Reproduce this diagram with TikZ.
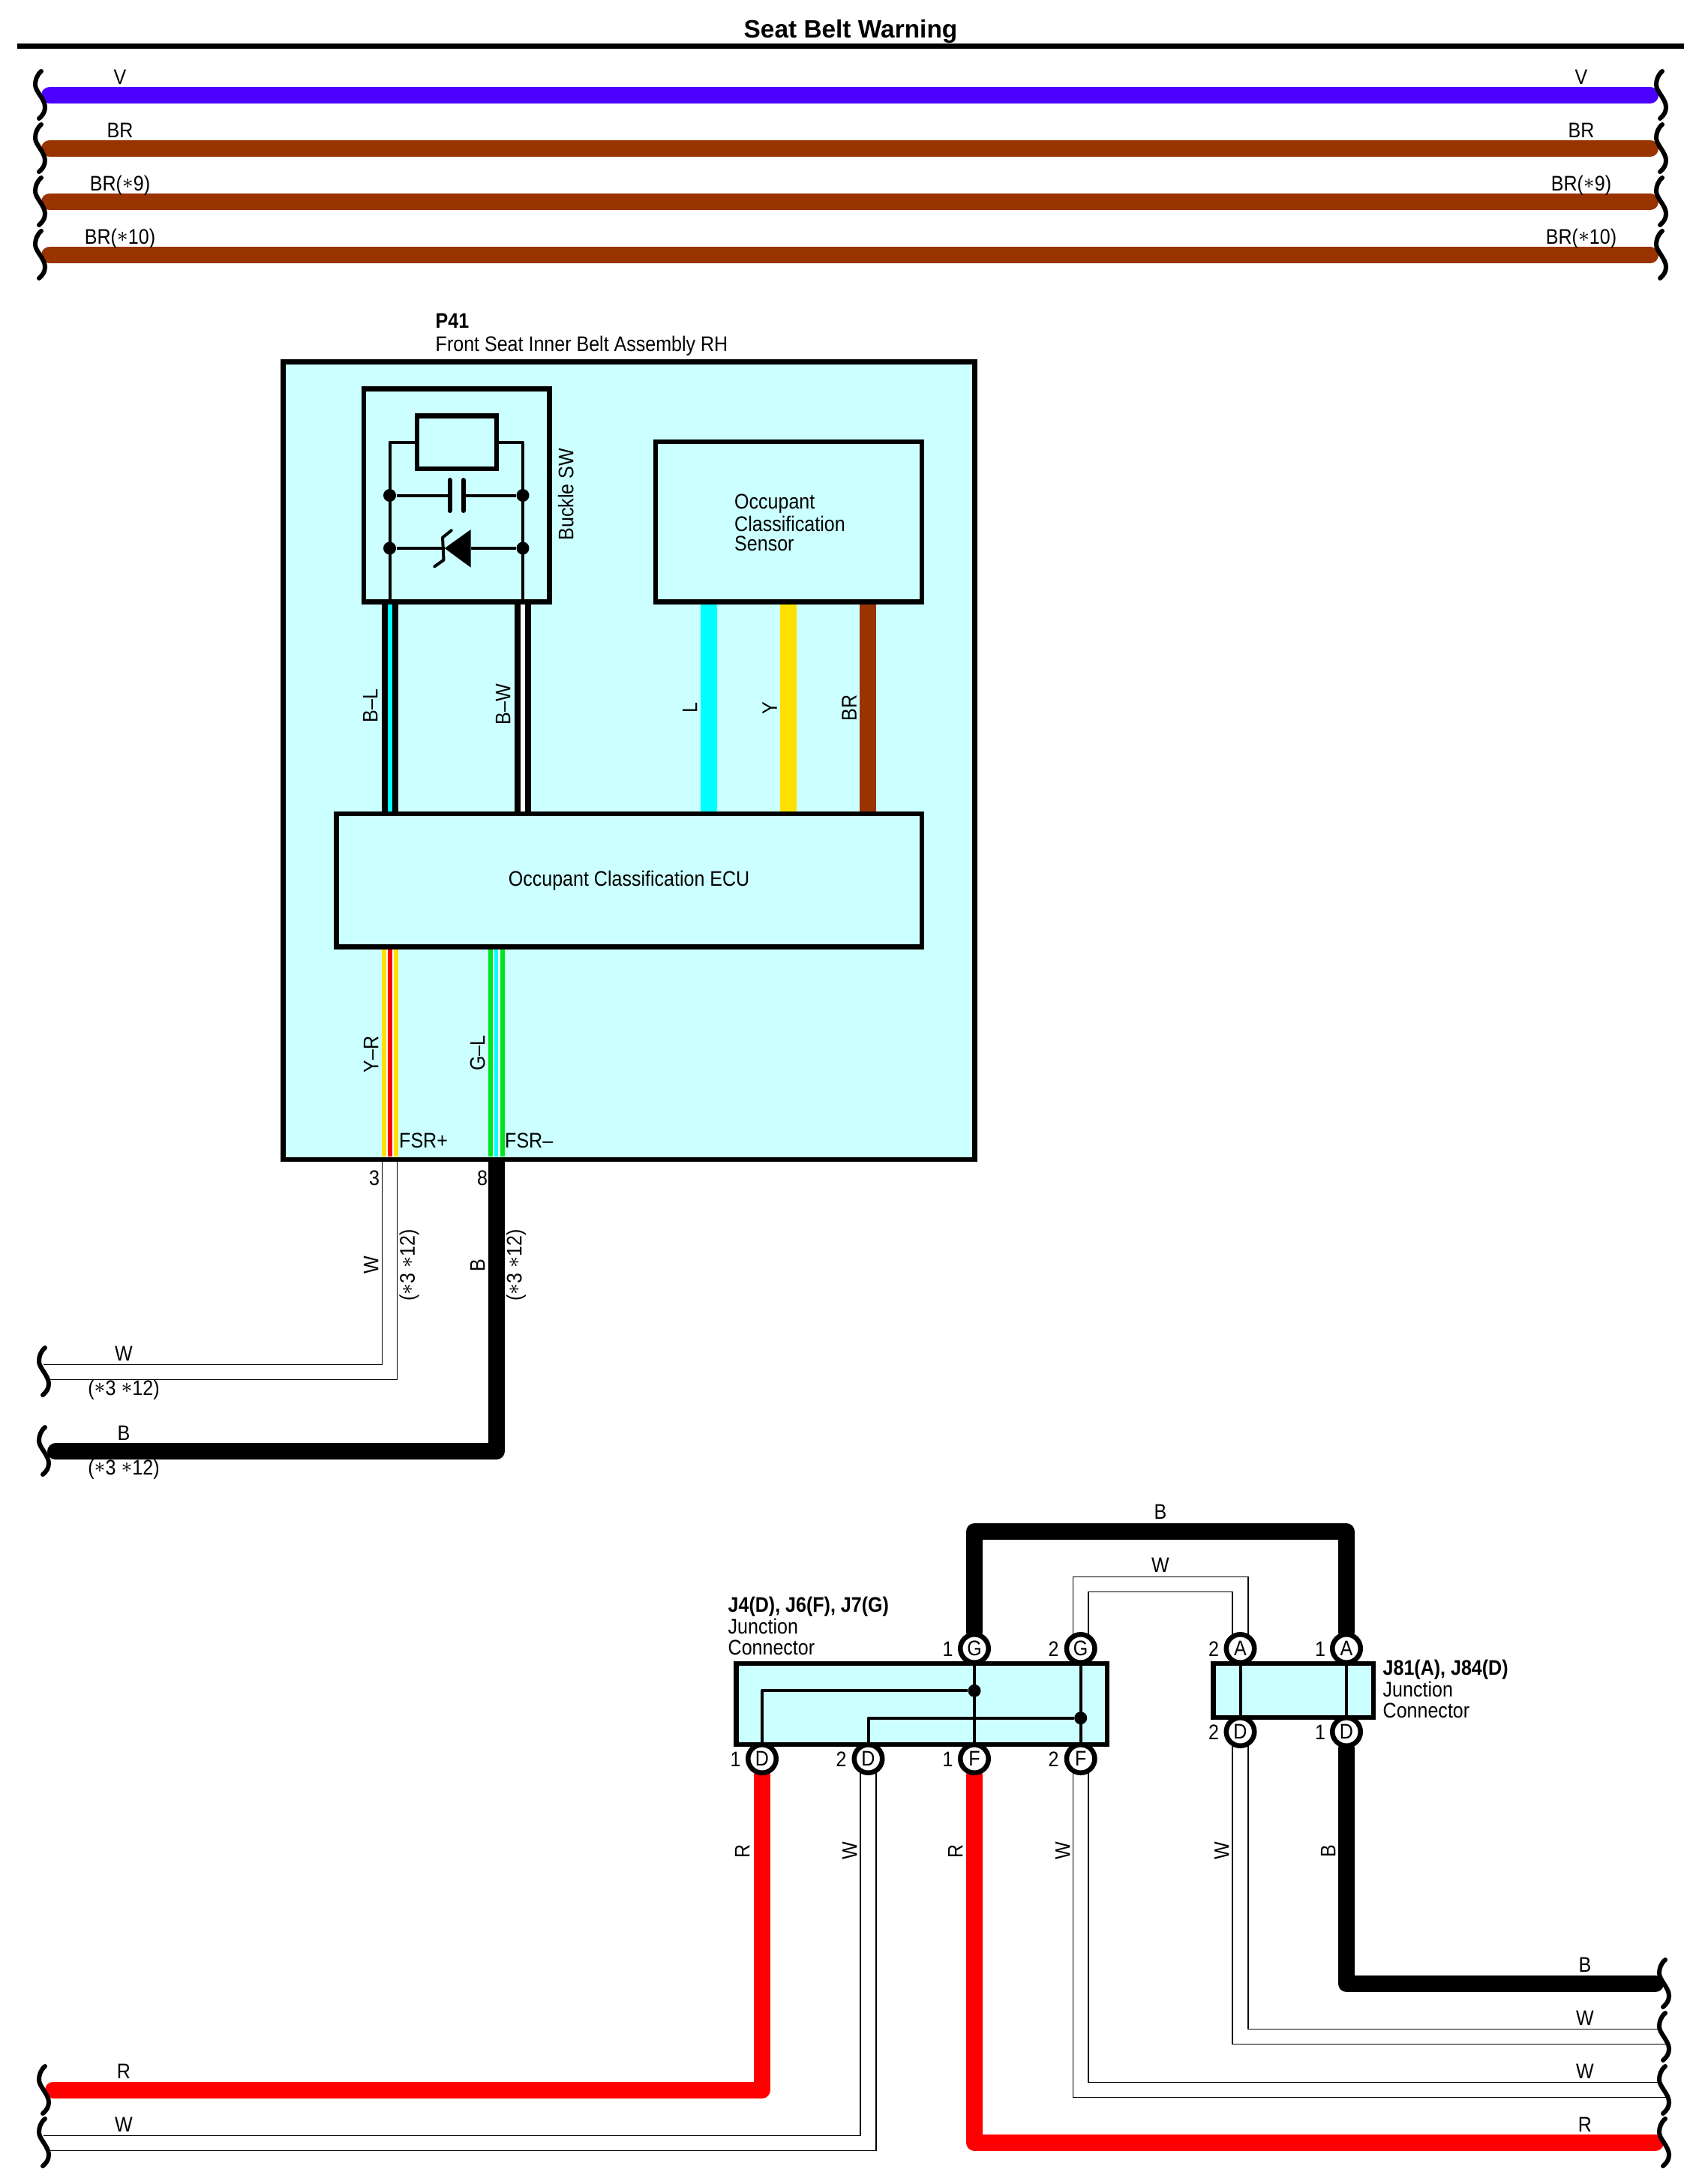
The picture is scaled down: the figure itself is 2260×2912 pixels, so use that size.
\documentclass[tikz,border=0pt]{standalone}
\usepackage{fontspec}
\setmainfont{Liberation Sans}[FakeStretch=0.89]
\newfontfamily\titlefont{Liberation Sans}
\usetikzlibrary{positioning}
\pgfdeclarelayer{wires}
\pgfsetlayers{wires,main}

\definecolor{wireV}{HTML}{4B00FF}
\definecolor{wireBR}{HTML}{993300}
\definecolor{wireY}{HTML}{FFE000}
\definecolor{wireL}{HTML}{00FFFF}
\definecolor{wireG}{HTML}{00E61E}
\definecolor{wireR}{HTML}{FF0000}
\definecolor{unitfill}{HTML}{CCFFFF}

\newcommand{\wstar}{\raisebox{0.8pt}{$\ast$}}

\tikzset{
  lbl/.style={inner sep=0pt, text height=0.205cm, text depth=0pt, font=\fontsize{8}{9}\selectfont},
  vlbl/.style={lbl, rotate=90},
  note/.style={inner sep=0pt, align=left, anchor=west, font=\fontsize{8}{8.1}\selectfont},
  unit/.style={draw, line width=0.065cm, fill=unitfill, inner sep=0pt, font=\fontsize{8}{9}\selectfont},
  pin/.style={circle, draw, line width=0.065cm, fill=white, minimum size=0.375cm, inner sep=0pt, font=\fontsize{8}{9}\selectfont},
  jdot/.style={circle, fill=black, minimum size=0.17cm, inner sep=0pt},
  cct/.style={line width=0.04cm, line join=round},
  brk/.style={line width=0.06cm, line cap=round},
  busw/.style={line width=0.22cm, line cap=round, line join=round},
  thinw/.style={line width=0.015cm},
  stripo/.style={line width=0.22cm},
  stripm/.style={line width=0.1cm},
  stripi/.style={line width=0.066cm}
}

\begin{document}
\begin{tikzpicture}[x=0.01cm,y=-0.01cm]
\useasboundingbox (0,0) rectangle (2260,2912);

% Title and rule
\node[inner sep=0pt, font=\titlefont\bfseries\fontsize{9.5}{11}\selectfont] (title) at (1134,42) {Seat Belt Warning};
\coordinate (rulel) at (23,61.5);
\coordinate (ruler) at (2245,61.5);
\draw[line width=0.07cm] (rulel) -- (ruler);

% Bus wires at the top
\foreach \yc/\wcol/\wlab/\wname in {127/wireV/V/a, 198/wireBR/BR/b, 269/wireBR/{BR(\wstar 9)}/c, 340/wireBR/{BR(\wstar 10)}/d} {
  \coordinate (busl\wname) at (66,\yc);
  \coordinate (busr\wname) at (2200,\yc);
  \draw[busw, \wcol] (busl\wname) -- (busr\wname);
  \node[lbl] (busla\wname) at (160,\yc-25) {\wlab};
  \node[lbl] (busra\wname) at (2108,\yc-25) {\wlab};
}

% Breaks at the wire ends
\foreach \xo/\yc in {0/127, 0/198, 0/269, 0/340, 2161/127, 2161/198, 2161/269, 2161/340,
  5/1829, 5/1935, 5/2787, 5/2857, 2165/2645, 2165/2716, 2165/2787, 2165/2857} {
  \draw[brk] (55+\xo,\yc-32) .. controls (49+\xo,\yc-27) and (47+\xo,\yc-20) .. (47+\xo,\yc-14)
    .. controls (47+\xo,\yc-5) and (60+\xo,\yc+5) .. (60+\xo,\yc+16)
    .. controls (60+\xo,\yc+22) and (57+\xo,\yc+27) .. (52+\xo,\yc+31);
}

% Seat belt assembly
\node[note, font=\fontsize{8}{8.7}\selectfont] (p41) at (580,446) {\textbf{P41}\\Front Seat Inner Belt Assembly RH};
\node[unit, minimum width=9.21cm, minimum height=10.625cm] (asm) at (838.5,1014.25) {};
\node[unit, minimum width=2.475cm, minimum height=2.84cm] (buckle) at (608.75,660.5) {};
\node[unit, minimum width=1.06cm, minimum height=0.705cm] (coil) at (609,589.75) {};
\node[unit, minimum width=3.547cm, minimum height=2.135cm] (sensor) at (1051.35,695.75) {};
\node[unit, minimum width=7.802cm, minimum height=1.775cm] (ecu) at (838.6,1173.75) {Occupant Classification ECU};
\node[vlbl] (bucklesw) at (754,659) {Buckle SW};
\node[note, font=\fontsize{8}{7.4}\selectfont] (sensortxt) at (978.5,697) {Occupant\\Classification\\Sensor};

% Buckle switch circuit
\node[jdot] (cl) at (519.5,660.5) {};
\node[jdot] (cr) at (697,660.5) {};
\node[jdot] (zl) at (519.5,731) {};
\node[jdot] (zr) at (697,731) {};
\coordinate (capa) at (599.5,660.5);
\coordinate (capb) at (617.7,660.5);
\coordinate (ztip) at (592.7,731);
\coordinate (zbase) at (627.7,731);
\draw[cct] (cl |- buckle.south) |- (coil.west);
\draw[cct] (cr |- buckle.south) |- (coil.east);
\draw[cct] (cl) -- (capa);
\draw[cct] (capb) -- (cr);
\draw[cct] (zl) -- (ztip);
\draw[cct] (zbase) -- (zr);
\draw[line width=0.06cm, line cap=round] (599.5,640) -- (599.5,681);
\draw[line width=0.06cm, line cap=round] (617.7,640) -- (617.7,681);
\fill (ztip) -- (627.7,706) -- (627.7,756.7) -- cycle;
\draw[cct, line cap=round] (601.7,707.3) -- (590,716.7) -- (591.5,746.7) -- (579.3,755.3);

% Wires inside the assembly
\coordinate (bl) at (520,802);
\coordinate (bw) at (697,802);
\coordinate (fsrp) at (520,1542);
\coordinate (fsrm) at (661.5,1542);
\draw[stripo] (bl |- buckle.south) -- (bl |- ecu.north);
\draw[stripi, wireL] (bl |- buckle.south) -- (bl |- ecu.north);
\draw[stripo] (bw |- buckle.south) -- (bw |- ecu.north);
\draw[stripi, white] (bw |- buckle.south) -- (bw |- ecu.north);
\foreach \wx/\wcol/\wname in {945/wireL/senl, 1051/wireY/seny, 1157/wireBR/senb} {
  \coordinate (\wname) at (\wx,802);
  \draw[stripo, \wcol] (\wname |- sensor.south) -- (\wname |- ecu.north);
}
\draw[stripo, wireY] (fsrp |- ecu.south) -- (fsrp);
\draw[stripm, white] (fsrp |- ecu.south) -- (fsrp);
\draw[stripi, wireR] (fsrp |- ecu.south) -- (fsrp);
\draw[stripo, wireG] (fsrm |- ecu.south) -- (fsrm);
\draw[stripm, white] (fsrm |- ecu.south) -- (fsrm);
\draw[line width=0.05cm, wireL] (fsrm |- ecu.south) -- (fsrm);

% Labels in the assembly
\node[vlbl] (lbbl) at (493,941) {B--L};
\node[vlbl] (lbbw) at (670,939) {B--W};
\node[vlbl] (lbl) at (919,944) {L};
\node[vlbl] (lby) at (1025.7,944) {Y};
\node[vlbl] (lbbr) at (1131.7,944) {BR};
\node[vlbl] (lbyr) at (494,1406) {Y--R};
\node[vlbl] (lbgl) at (636,1404) {G--L};
\node[lbl, anchor=west] (lbfp) at (531.5,1520) {FSR+};
\node[lbl, anchor=west] (lbfm) at (672.5,1520) {FSR--};
\node[lbl] (pn3) at (499,1570) {3};
\node[lbl] (pn8) at (643,1570) {8};

% Leads out of the assembly
\coordinate (p3l) at (509.5,1545);
\coordinate (p3r) at (529.5,1545);
\coordinate (p8) at (661.5,1545);
\coordinate (wl1) at (58,1819.3);
\coordinate (wl2) at (67,1839.3);
\coordinate (bl1) at (74,1935.3);
\begin{pgfonlayer}{wires}
\draw[thinw] (p3l) |- (wl1);
\draw[thinw] (p3r) |- (wl2);
\draw[busw] (p8) |- (bl1);
\end{pgfonlayer}
\node[vlbl] (lbw1) at (494,1687) {W};
\node[vlbl] (lbs1) at (542.7,1687) {(\wstar 3 \wstar 12)};
\node[vlbl] (lbb1) at (636,1687) {B};
\node[vlbl] (lbs2) at (685,1687) {(\wstar 3 \wstar 12)};
\node[lbl] (lbw2) at (165,1804) {W};
\node[lbl] (lbs3) at (165,1850) {(\wstar 3 \wstar 12)};
\node[lbl] (lbb2) at (165,1910) {B};
\node[lbl] (lbs4) at (165,1956) {(\wstar 3 \wstar 12)};

% Junction connector J4, J6, J7
\node[note] (j4txt) at (970,2168) {\textbf{J4(D), J6(F), J7(G)}\\Junction\\Connector};
\node[unit, minimum width=4.943cm, minimum height=1.08cm] (j4) at (1228.55,2272) {};
\node[pin] (g1) at (1299,2198) {G};
\node[pin] (g2) at (1440.7,2198) {G};
\node[pin] (d1) at (1016,2345) {D};
\node[pin] (d2) at (1157.5,2345) {D};
\node[pin] (f1) at (1299,2345) {F};
\node[pin] (f2) at (1440.7,2345) {F};
\node[jdot] (jg) at (1299,2254.3) {};
\node[jdot] (jf) at (1440.7,2290.7) {};
\draw[cct] (g1 |- j4.north) -- (f1 |- j4.south);
\draw[cct] (g2 |- j4.north) -- (f2 |- j4.south);
\draw[cct] (jg) -| (d1 |- j4.south);
\draw[cct] (jf) -| (d2 |- j4.south);
\foreach \wx/\wy/\wtxt/\wname in {1263.5/2198/1/a, 1404.5/2198/2/b, 980.5/2345/1/c, 1121.5/2345/2/d, 1263.5/2345/1/e, 1404.5/2345/2/f} {
  \node[lbl] (nj\wname) at (\wx,\wy) {\wtxt};
}

% Junction connector J81, J84
\node[note] (j81txt) at (1843,2252) {\textbf{J81(A), J84(D)}\\Junction\\Connector};
\node[unit, minimum width=2.135cm, minimum height=0.72cm] (j81) at (1724.25,2254) {};
\node[pin] (a2) at (1653.5,2198) {A};
\node[pin] (a1) at (1795,2198) {A};
\node[pin] (k2) at (1653.5,2309) {D};
\node[pin] (k1) at (1795,2309) {D};
\draw[cct] (a2 |- j81.north) -- (k2 |- j81.south);
\draw[cct] (a1 |- j81.north) -- (k1 |- j81.south);
\foreach \wx/\wy/\wtxt/\wname in {1618/2198/2/a, 1760/2198/1/b, 1618/2309/2/c, 1760/2309/1/d} {
  \node[lbl] (nk\wname) at (\wx,\wy) {\wtxt};
}

% Wires of the lower part
\coordinate (btop) at (1547,2042);
\coordinate (wtopa) at (1547,2102.3);
\coordinate (wtopb) at (1547,2122.3);
\coordinate (rl) at (71,2786.5);
\coordinate (wbl1) at (58,2847.3);
\coordinate (wbl2) at (67,2867.3);
\coordinate (br) at (2207,2645);
\coordinate (wr1) at (2212,2705.3);
\coordinate (wr2) at (2222,2725.3);
\coordinate (wr3) at (2212,2776.3);
\coordinate (wr4) at (2222,2796.3);
\coordinate (rr) at (2207,2856.7);
\begin{pgfonlayer}{wires}
\draw[busw] (g1) |- (btop) -| (a1);
\draw[thinw] (g2.118) |- (wtopa) -| (a2.62);
\draw[thinw] (g2.62) |- (wtopb) -| (a2.118);
\draw[busw, wireR] (d1) |- (rl);
\draw[thinw] (d2.-118) |- (wbl1);
\draw[thinw] (d2.-62) |- (wbl2);
\draw[busw, wireR] (f1) |- (rr);
\draw[thinw] (f2.-118) |- (wr4);
\draw[thinw] (f2.-62) |- (wr3);
\draw[thinw] (k2.-118) |- (wr2);
\draw[thinw] (k2.-62) |- (wr1);
\draw[busw] (k1) |- (br);
\end{pgfonlayer}

% Wire labels of the lower part
\node[lbl] (lbb3) at (1547,2015) {B};
\node[lbl] (lbw3) at (1547,2086) {W};
\node[vlbl] (lbr4) at (989,2468) {R};
\node[vlbl] (lbw4) at (1132,2468) {W};
\node[vlbl] (lbr5) at (1273,2468) {R};
\node[vlbl] (lbw5) at (1416,2468) {W};
\node[vlbl] (lbw6) at (1628,2468) {W};
\node[vlbl] (lbb6) at (1770,2468) {B};
\node[lbl] (lbb7) at (2113,2619) {B};
\node[lbl] (lbw7) at (2113,2690) {W};
\node[lbl] (lbw8) at (2113,2761) {W};
\node[lbl] (lbr8) at (2113,2832) {R};
\node[lbl] (lbr9) at (165,2761) {R};
\node[lbl] (lbw9) at (165,2832) {W};
\end{tikzpicture}
\end{document}
